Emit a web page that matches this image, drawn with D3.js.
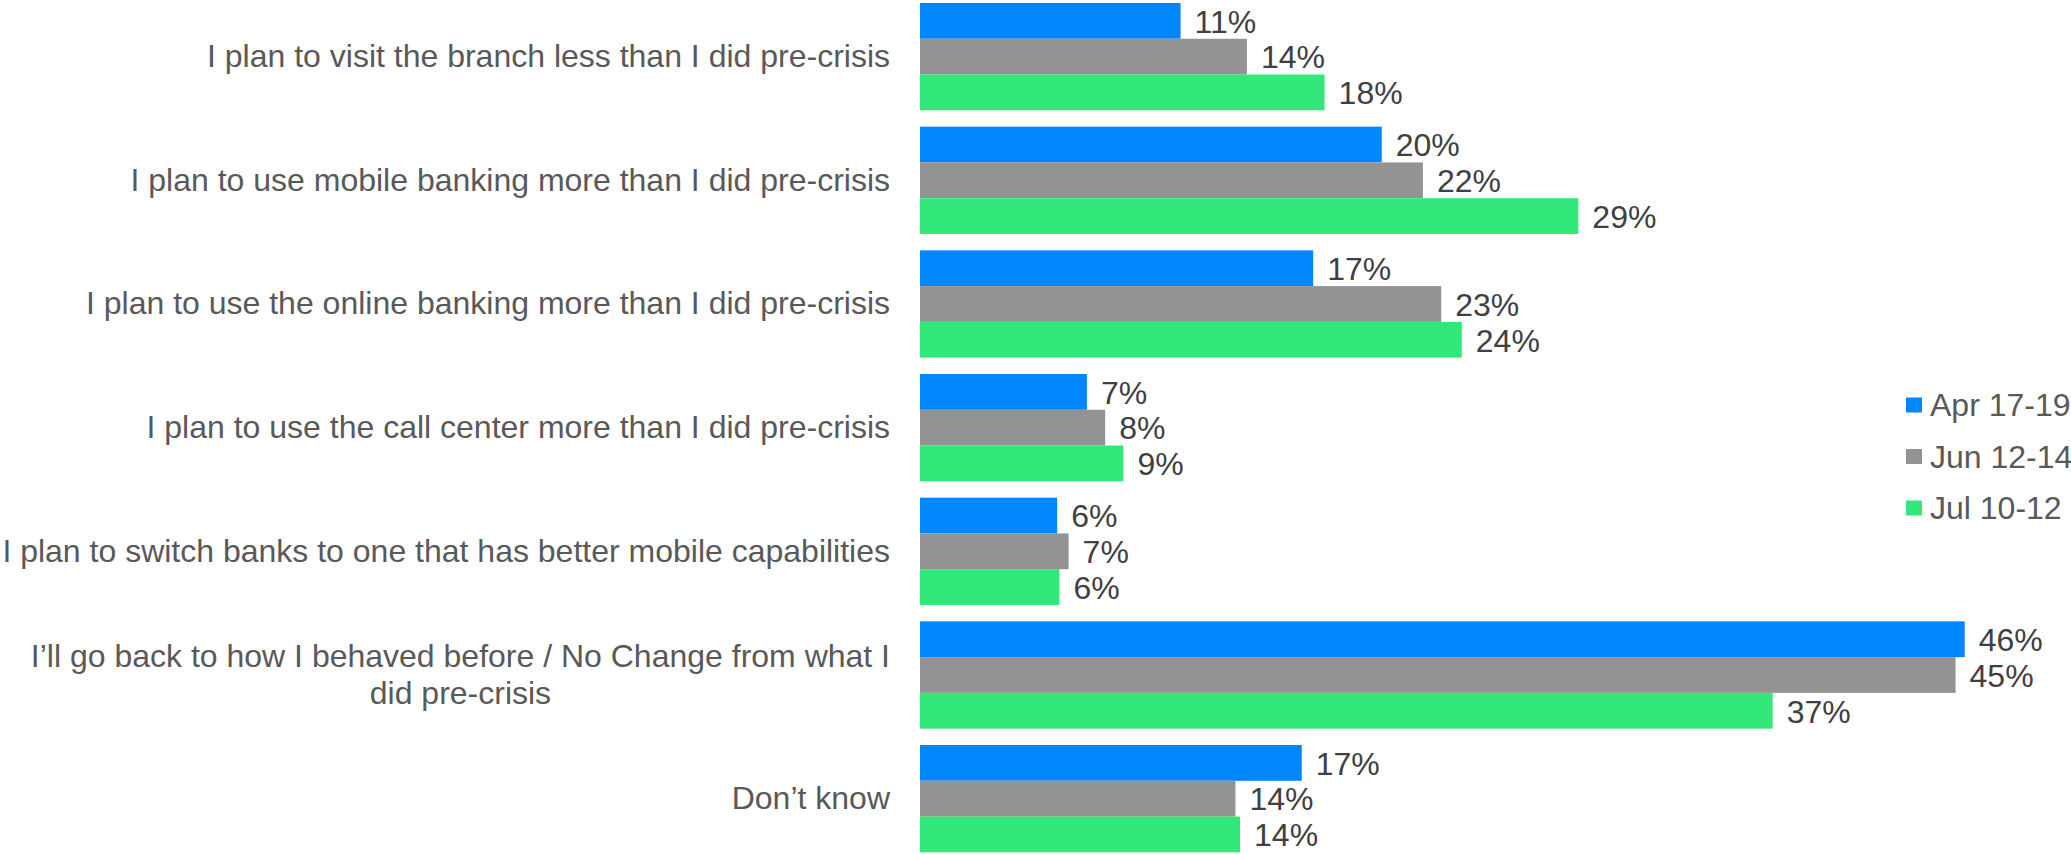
<!DOCTYPE html>
<html><head><meta charset="utf-8">
<script src="https://cdn.jsdelivr.net/npm/d3@7"></script>
<style>body{margin:0;background:#fff}svg{display:block}</style>
</head><body>
<svg id="c" width="2071" height="854"></svg>
<script>
const categories = [
  "I plan to visit the branch less than I did pre-crisis",
  "I plan to use mobile banking more than I did pre-crisis",
  "I plan to use the online banking more than I did pre-crisis",
  "I plan to use the call center more than I did pre-crisis",
  "I plan to switch banks to one that has better mobile capabilities",
  "I\u2019ll go back to how I behaved before / No Change from what I did pre-crisis",
  "Don\u2019t know"
];
const seriesNames = ["Apr 17-19", "Jun 12-14", "Jul 10-12"];
const aprValues = [11.4, 20.2, 17.2, 7.3, 6.0, 45.7, 16.7];
const junValues = [14.3, 22.0, 22.8, 8.1, 6.5, 45.3, 13.8];
const julValues = [17.7, 28.8, 23.7, 8.9, 6.1, 37.3, 14.0];
const seriesColors = ["#0086FF", "#939393", "#33E87A"];

const series = [aprValues, junValues, julValues];
const FONT = "'Liberation Sans', Arial, sans-serif";
const FS = 32;

const svg = d3.select("#c");
const x = d3.scaleLinear().domain([0, 50]).range([920, 920 + 50 * 22.86]);
const y = d3.scaleBand().domain(categories).range([-5.19, 860.5]).paddingInner(0.1324).paddingOuter(0.0662);
const ys = d3.scaleBand().domain(seriesNames).range([0, y.bandwidth()]);

const rows = categories.map((c, i) => ({c, vals: seriesNames.map((s, j) => ({s, j, v: series[j][i]}))}));

const g = svg.append("g");
const grp = g.selectAll("g.grp").data(rows).join("g").attr("class", "grp")
  .attr("transform", d => `translate(0,${y(d.c)})`);

grp.selectAll("rect").data(d => d.vals).join("rect")
  .attr("x", x(0))
  .attr("y", d => ys(d.s))
  .attr("width", d => x(d.v) - x(0))
  .attr("height", ys.bandwidth())
  .attr("fill", d => seriesColors[d.j]);

grp.selectAll("text.val").data(d => d.vals).join("text").attr("class", "val")
  .attr("x", d => x(d.v) + 14)
  .attr("y", d => ys(d.s) + ys.bandwidth() / 2 + 11.8)
  .attr("font-family", FONT).attr("font-size", FS).attr("fill", "#404040")
  .text(d => Math.round(d.v) + "%");

// category axis
const axis = d3.axisLeft(y).tickSize(0).tickPadding(30);
const ag = svg.append("g").attr("transform", `translate(${x(0)},0)`).call(axis);
ag.select(".domain").remove();
ag.selectAll("text").attr("font-family", FONT).attr("font-size", FS).attr("fill", "#595959");

const maxW = 897;
ag.selectAll(".tick text").each(function(d) {
  const t = d3.select(this);
  if (this.getComputedTextLength() <= maxW) return;
  const words = d.split(" ");
  const lines = [];
  let cur = [];
  t.text("");
  const probe = t.append("tspan");
  words.forEach(w => {
    const test = cur.concat([w]).join(" ");
    probe.text(test);
    if (probe.node().getComputedTextLength() > maxW && cur.length) {
      lines.push(cur.join(" "));
      cur = [w];
    } else cur.push(w);
  });
  lines.push(cur.join(" "));
  let widest = 0;
  lines.forEach(l => { probe.text(l); widest = Math.max(widest, probe.node().getComputedTextLength()); });
  probe.remove();
  const cx = -30 - widest / 2;
  const lh = 37;
  t.attr("text-anchor", "middle").attr("dy", null).attr("x", null).attr("y", null);
  lines.forEach((l, i) => {
    t.append("tspan").attr("x", cx)
      .attr("y", (i - (lines.length - 1) / 2) * lh)
      .attr("dy", "0.32em").text(l);
  });
});

// legend
const lg = svg.append("g").attr("transform", "translate(1906,405)");
const li = lg.selectAll("g").data(seriesNames).join("g")
  .attr("transform", (d, i) => `translate(0,${i * 51.5})`);
li.append("rect").attr("x", 0).attr("y", -7.5).attr("width", 16).attr("height", 15)
  .attr("fill", (d, i) => seriesColors[i]);
li.append("text").attr("x", 24).attr("y", 11.3)
  .attr("font-family", FONT).attr("font-size", FS).attr("fill", "#595959")
  .text(d => d);
</script>
</body></html>
